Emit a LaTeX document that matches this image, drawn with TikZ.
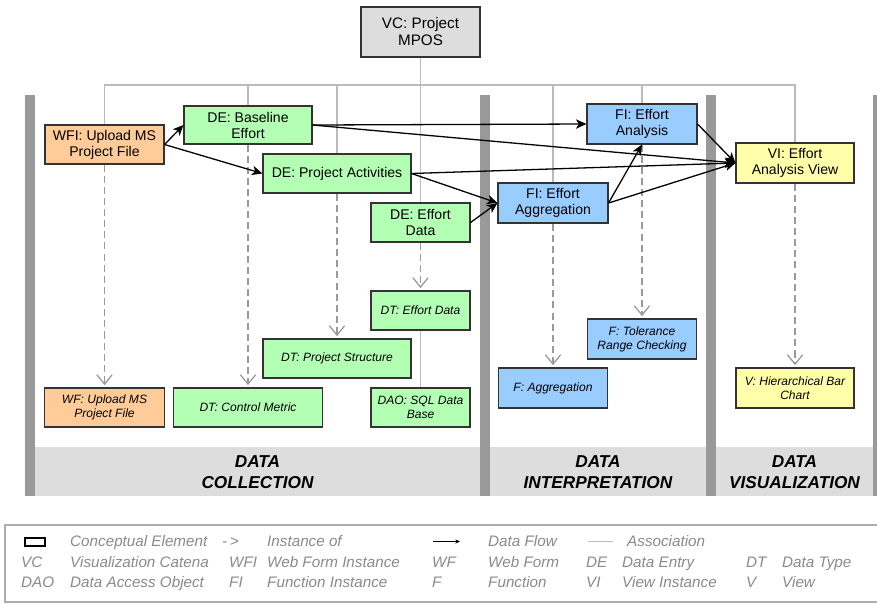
\documentclass[tikz,border=0pt]{standalone}
\usepackage{fontspec}
\setmainfont{Liberation Sans}
\usepackage{tikz}
\usetikzlibrary{arrows.meta, calc, positioning}
\definecolor{catenagray}{HTML}{DDDDDD}
\definecolor{lanegray}{HTML}{999999}
\definecolor{assocgray}{HTML}{BBBBBB}
\definecolor{instgray}{HTML}{9A9A9A}
\definecolor{legendgray}{HTML}{8A8A8A}
\definecolor{boxline}{HTML}{333333}
\definecolor{formorange}{HTML}{FFCC99}
\definecolor{entrygreen}{HTML}{B3FFB3}
\definecolor{funcblue}{HTML}{99CCFF}
\definecolor{viewyellow}{HTML}{FFFFAA}

\begin{document}
\begin{tikzpicture}[
x=0.03cm, y=-0.03cm,
texts/.style = {font=\fontsize{12}{13.6}\selectfont, align=center},
typetexts/.style = {font=\fontsize{10.3}{12}\selectfont\itshape, align=center},
box/.style 2 args = {draw=boxline, line width=0.9pt, inner sep=0pt, minimum width=#1*0.03cm, minimum height=#2*0.03cm},
catenanode/.style = {fill=catenagray, font=\fontsize{13}{14.5}\selectfont, align=center},
formnode/.style = {fill=formorange},
entrynode/.style = {fill=entrygreen},
funcnode/.style = {fill=funcblue},
viewnode/.style = {fill=viewyellow},
flowline/.style = {draw=black, line width=1.1pt, -{Stealth[length=9pt, width=8pt, inset=2.5pt]}},
instline/.style = {draw=instgray, line width=1.1pt, dash pattern=on 6pt off 3.5pt, -{Straight Barb[length=8pt, width=13pt]}, shorten >=2pt},
assocline/.style = {draw=assocgray, line width=0.9pt},
lanebar/.style = {fill=lanegray},
laneband/.style = {fill=catenagray},
lanetext/.style = {font=\fontsize{14.7}{17.9}\selectfont\bfseries\itshape, align=center},
legendtext/.style = {font=\fontsize{13}{15}\selectfont\itshape, text=legendgray, inner sep=0pt, anchor=base west},
legendline/.style = {draw=lanegray!80, line width=0.9pt}
]
\useasboundingbox (0,0) rectangle (877,603);

% lanes
\foreach \l/\r in {25/35, 480/490, 706/716, 873/877}
	\fill[lanebar] (\l,95) rectangle (\r,496);
\foreach \l/\r in {35/480, 490/706, 716/873}
	\fill[laneband] (\l,447) rectangle (\r,496);
\node[lanetext] (collect) at (257.5,472) {DATA\\COLLECTION};
\node[lanetext] (interp) at (598,472) {DATA\\INTERPRETATION};
\node[lanetext] (visual) at (794.5,472) {DATA\\VISUALIZATION};

% conceptual elements
\node[catenanode, box={119}{50}] (vc) at (420.5,32) {VC: Project\\MPOS};
\node[formnode, texts, box={119}{39}] (wfi) at (104.5,144.5) {WFI: Upload MS\\Project File};
\node[entrynode, texts, box={128}{38}] (debase) at (248,125) {DE: Baseline\\Effort};
\node[entrynode, texts, box={148}{39}] (deact) at (337,173.5) {DE: Project Activities};
\node[entrynode, texts, box={99}{39}] (deeff) at (420.5,222.5) {DE: Effort\\Data};
\node[funcnode, texts, box={110}{40}] (fiagg) at (553,203) {FI: Effort\\Aggregation};
\node[funcnode, texts, box={110}{40}] (fiana) at (642,124) {FI: Effort\\Analysis};
\node[viewnode, texts, box={118}{40}] (vi) at (795,163) {VI: Effort\\Analysis View};

\node[formnode, typetexts, box={120}{39}] (wf) at (104.5,407.5) {WF: Upload MS\\Project File};
\node[entrynode, typetexts, box={149}{39}] (dtctl) at (248,407.5) {DT: Control Metric};
\node[entrynode, typetexts, box={148}{39}] (dtstr) at (337,358.5) {DT: Project Structure};
\node[entrynode, typetexts, box={99}{39}] (dteff) at (420.5,310.5) {DT: Effort Data};
\node[entrynode, typetexts, box={99}{39}] (dao) at (420.5,407.5) {DAO: SQL Data\\Base};
\node[funcnode, typetexts, box={109}{40}] (fagg) at (553,388) {F: Aggregation};
\node[funcnode, typetexts, box={109}{40}] (ftol) at (642,339) {F: Tolerance\\Range Checking};
\node[viewnode, typetexts, box={118}{40}] (vbar) at (795,388) {V: Hierarchical Bar\\Chart};

% associations
\coordinate (bus) at (0,85);
\draw[assocline] (wfi.north) -- (wfi.north |- bus) -- (vi.north |- bus) -- (vi.north);
\foreach \n in {debase, deact, fiagg, fiana}
	\draw[assocline] (\n.north) -- (\n.north |- bus);
\draw[assocline] (vc.south) -- (deeff.north);
\draw[assocline] (dteff.south) -- (dao.north);

% instance of
\foreach \a/\b in {wfi/wf, debase/dtctl, deact/dtstr, deeff/dteff, fiagg/fagg, fiana/ftol, vi/vbar}
	\draw[instline] (\a.south) -- (\b.north);

% data flow
\foreach \a/\b in {wfi.east/debase.west, wfi.east/deact.west, debase.east/fiana.west, debase.east/vi.west, deact.east/vi.west, deact.east/fiagg.west, deeff.east/fiagg.west, fiagg.east/fiana.south, fiagg.east/vi.west, fiana.east/vi.west}
	\draw[flowline] (\a) -- (\b);

% legend
\draw[legendline] (877,525) -- (5,525) -- (5,602) -- (877,602);
\draw[draw=black, line width=0.9pt] (25,538) rectangle (45,546);
\draw[black, line width=0.8pt, -{Stealth[length=4pt, width=3.5pt]}] (433,541.5) -- (460,541.5);
\draw[assocline] (588,541.5) -- (613,541.5);
\foreach \x/\y/\t [count=\i] in {70/546.7/Conceptual Element, 222/546.7/{-\,>}, 267/546.7/Instance of, 488/546.7/Data Flow, 627/546.7/Association,
	21/567.7/VC, 70/567.7/Visualization Catena, 229/567.7/WFI, 267/567.7/Web Form Instance, 432/567.7/WF, 488/567.7/Web Form, 586/567.7/DE, 622/567.7/Data Entry, 746/567.7/DT, 782/567.7/Data Type,
	21/587.3/DAO, 70/587.3/Data Access Object, 229/587.3/FI, 267/587.3/Function Instance, 432/587.3/F, 488/587.3/Function, 586/587.3/VI, 622/587.3/View Instance, 746/587.3/V, 782/587.3/View}
	\node[legendtext] (leg\i) at (\x,\y) {\t};
\end{tikzpicture}
\end{document}
